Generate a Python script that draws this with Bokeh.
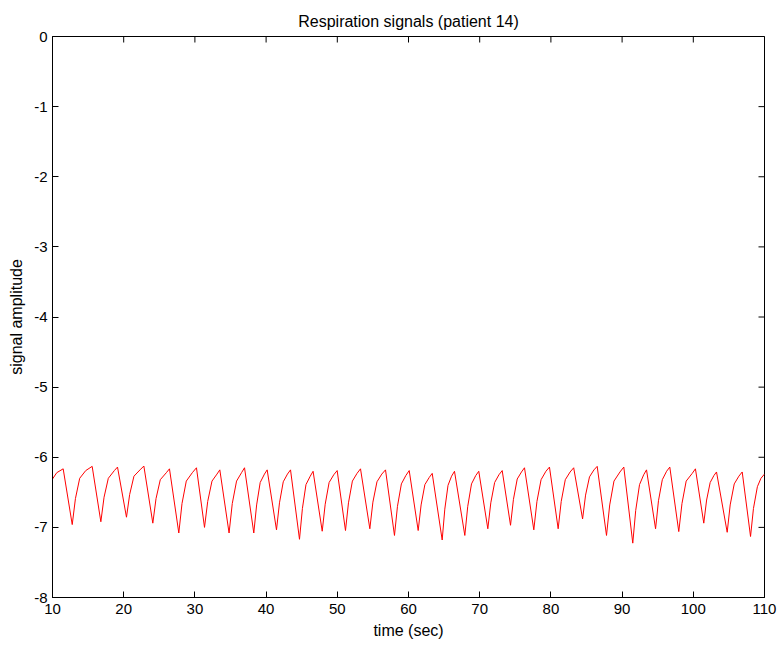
import math
from bokeh.plotting import figure
from bokeh.models import Range1d, FixedTicker, ColumnDataSource
from bokeh.embed import file_html
from bokeh.resources import INLINE

# ---- data ----
time_sec = [
    10.0, 10.6, 11.5,
    12.77, 13.22, 13.82, 14.67, 15.57,
    16.79, 17.24, 17.84, 18.69, 19.13,
    20.39, 20.84, 21.44, 22.29, 22.83,
    24.09, 24.54, 25.14, 25.99, 26.43,
    27.74, 28.19, 28.79, 29.64, 30.22,
    31.35, 31.80, 32.40, 33.10, 33.50,
    34.80, 35.25, 35.85, 36.55, 36.97,
    38.27, 38.67, 39.17, 39.77, 40.15,
    41.46, 41.88, 42.41, 43.00, 43.43,
    44.69, 45.10, 45.60, 46.20, 46.60,
    47.88, 48.30, 48.85, 49.50, 49.98,
    51.15, 51.57, 52.12, 52.77, 53.26,
    54.57, 55.00, 55.57, 56.25, 56.77,
    58.03, 58.45, 59.00, 59.63, 60.10,
    61.36, 61.77, 62.30, 62.90, 63.33,
    64.73, 65.10, 65.55, 66.05, 66.46,
    67.91, 68.32, 68.85, 69.45, 69.87,
    71.14, 71.56, 72.10, 72.70, 73.16,
    74.33, 74.74, 75.27, 75.87, 76.29,
    77.60, 78.04, 78.62, 79.30, 79.80,
    81.02, 81.45, 82.02, 82.70, 83.20,
    84.45, 84.87, 85.42, 86.05, 86.50,
    87.81, 88.26, 88.86, 89.70, 90.24,
    91.50, 91.91, 92.45, 93.03, 93.43,
    94.70, 95.11, 95.65, 96.25, 96.70,
    97.96, 98.41, 99.00, 99.85, 100.30,
    101.47, 101.87, 102.37, 102.90, 103.26,
    104.76, 105.18, 105.75, 106.40, 106.87,
    108.04, 108.45, 109.00, 109.50, 110.00,
]
amplitude = [
    -6.31, -6.22, -6.165,
    -6.96, -6.59, -6.30, -6.19, -6.13,
    -6.92, -6.57, -6.30, -6.19, -6.14,
    -6.855, -6.53, -6.27, -6.18, -6.125,
    -6.94, -6.59, -6.32, -6.22, -6.165,
    -7.08, -6.66, -6.34, -6.22, -6.15,
    -7.00, -6.63, -6.34, -6.24, -6.18,
    -7.08, -6.66, -6.34, -6.22, -6.15,
    -7.08, -6.68, -6.36, -6.24, -6.18,
    -7.035, -6.65, -6.35, -6.24, -6.18,
    -7.17, -6.73, -6.39, -6.27, -6.20,
    -7.055, -6.67, -6.36, -6.25, -6.19,
    -7.045, -6.65, -6.34, -6.23, -6.165,
    -7.02, -6.64, -6.35, -6.24, -6.18,
    -7.115, -6.70, -6.38, -6.26, -6.19,
    -7.045, -6.68, -6.39, -6.29, -6.23,
    -7.18, -6.74, -6.40, -6.27, -6.20,
    -7.115, -6.70, -6.38, -6.26, -6.20,
    -7.02, -6.65, -6.36, -6.25, -6.19,
    -6.97, -6.60, -6.31, -6.21, -6.15,
    -7.035, -6.63, -6.32, -6.20, -6.14,
    -7.02, -6.63, -6.32, -6.21, -6.15,
    -6.88, -6.54, -6.28, -6.18, -6.13,
    -7.115, -6.68, -6.34, -6.21, -6.14,
    -7.225, -6.76, -6.39, -6.25, -6.18,
    -7.02, -6.62, -6.32, -6.20, -6.14,
    -7.06, -6.66, -6.34, -6.23, -6.165,
    -6.94, -6.61, -6.36, -6.26, -6.21,
    -7.07, -6.68, -6.38, -6.27, -6.21,
    -7.13, -6.73, -6.42, -6.30, -6.24,
]
x_ticks = [10, 20, 30, 40, 50, 60, 70, 80, 90, 100, 110]
y_ticks = [0, -1, -2, -3, -4, -5, -6, -7, -8]

title_text = "Respiration signals (patient 14)"
x_label = "time (sec)"
y_label = "signal amplitude"

FONT = "Liberation Sans"
X_MIN, X_MAX = 10, 110
Y_MIN, Y_MAX = -8, 0

src = ColumnDataSource(data=dict(t=time_sec, a=amplitude))

p = figure(
    width=780, height=645,
    output_backend="svg", toolbar_location=None,
    x_range=Range1d(X_MIN, X_MAX), y_range=Range1d(Y_MIN, Y_MAX),
    title=title_text,
    min_border_left=52, min_border_right=16,
    min_border_top=36, min_border_bottom=48,
)
p.background_fill_color = "white"
p.border_fill_color = "white"
p.outline_line_color = "black"
p.grid.visible = False

p.title.align = "center"
p.title.text_font = FONT
p.title.text_font_size = "16px"
p.title.text_font_style = "normal"
p.title.text_color = "black"
p.title.standoff = 14

p.line("t", "a", source=src, line_color="#ff0000", line_width=1)

# mirrored inward tick marks on the top and right edges (clipped to the frame)
p.scatter(x=x_ticks, y=[Y_MAX] * len(x_ticks), marker="dash", angle=math.pi / 2,
          size=12, line_color="black", line_width=1)
p.scatter(x=[X_MAX] * len(y_ticks), y=y_ticks, marker="dash",
          size=12, line_color="black", line_width=1)

def style_axis(ax, ticks):
    ax.ticker = FixedTicker(ticks=ticks)
    ax.major_label_overrides = {t: str(t) for t in ticks}
    ax.major_tick_in = 6
    ax.major_tick_out = 0
    ax.minor_tick_line_color = None
    ax.axis_line_color = "black"
    ax.major_tick_line_color = "black"
    ax.major_label_text_font = FONT
    ax.major_label_text_font_size = "15px"
    ax.major_label_text_color = "black"
    ax.axis_label_text_font = FONT
    ax.axis_label_text_font_size = "16px"
    ax.axis_label_text_font_style = "normal"
    ax.axis_label_text_color = "black"

xa = p.xaxis[0]
style_axis(xa, x_ticks)
xa.axis_label = x_label
xa.major_label_standoff = 6
xa.axis_label_standoff = 5

ya = p.yaxis[0]
style_axis(ya, y_ticks)
ya.axis_label = y_label
ya.major_label_standoff = 5
ya.axis_label_standoff = 6

open("out.html", "w").write(file_html(p, INLINE))
